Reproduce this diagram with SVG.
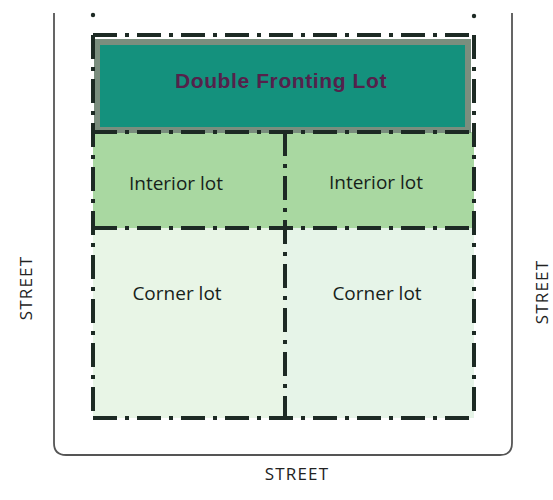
<svg xmlns="http://www.w3.org/2000/svg" width="553" height="500" viewBox="0 0 553 500">
<style>
.lbl{font-family:"Open Sans","Liberation Sans",sans-serif;font-size:19px;font-weight:500;fill:#16221a;text-anchor:middle}
.st{font-family:"Open Sans","Liberation Sans",sans-serif;font-size:17px;font-weight:500;fill:#222;text-anchor:middle;letter-spacing:1.2px}
.dd{fill:none;stroke:#1d2a24;stroke-width:4;stroke-dasharray:24 8 4 8}
</style>
<rect width="553" height="500" fill="#ffffff"/>
<g id="street">
<path d="M54 13 V443 Q54 455 66 455 H500 Q512 455 512 443 V13" fill="none" stroke="#555" stroke-width="1.8"/>
<text class="st" transform="translate(32 288) rotate(-90)">STREET</text>
<text class="st" transform="translate(548 292) rotate(-90)">STREET</text>
<text class="st" x="297" y="480">STREET</text>
</g>
<g id="corner-lots">
<rect x="93" y="228" width="192" height="190" fill="#e8f5e6"/>
<rect x="285" y="228" width="189" height="190" fill="#e6f4e8"/>
<text class="lbl" x="177" y="300">Corner lot</text>
<text class="lbl" x="377" y="300">Corner lot</text>
</g>
<g id="interior-lots">
<rect x="93" y="132" width="381" height="96" fill="#a9d8a1"/>
<text class="lbl" x="176" y="190">Interior lot</text>
<text class="lbl" x="376" y="189">Interior lot</text>
</g>
<g id="double-fronting-lot">
<rect x="97" y="42" width="371" height="88" fill="#14917d" stroke="#7a8e7e" stroke-width="6"/>
<text x="281" y="88" font-family="'Liberation Sans',Arial,sans-serif" font-size="21" font-weight="bold" letter-spacing="0.6" fill="#55214b" text-anchor="middle">Double Fronting Lot</text>
</g>
<g id="boundaries">
<circle cx="93" cy="15" r="2.2" fill="#1d2a24"/>
<circle cx="474" cy="16" r="2.2" fill="#1d2a24"/>
<path class="dd" d="M93 35 H474"/>
<path class="dd" d="M93 132 H474"/>
<path class="dd" d="M93 228 H474"/>
<path class="dd" d="M93 418 H474"/>
<path class="dd" d="M93 35 V418"/>
<path class="dd" d="M474 35 V418"/>
<path class="dd" d="M285 132 V418"/>
</g>
</svg>
